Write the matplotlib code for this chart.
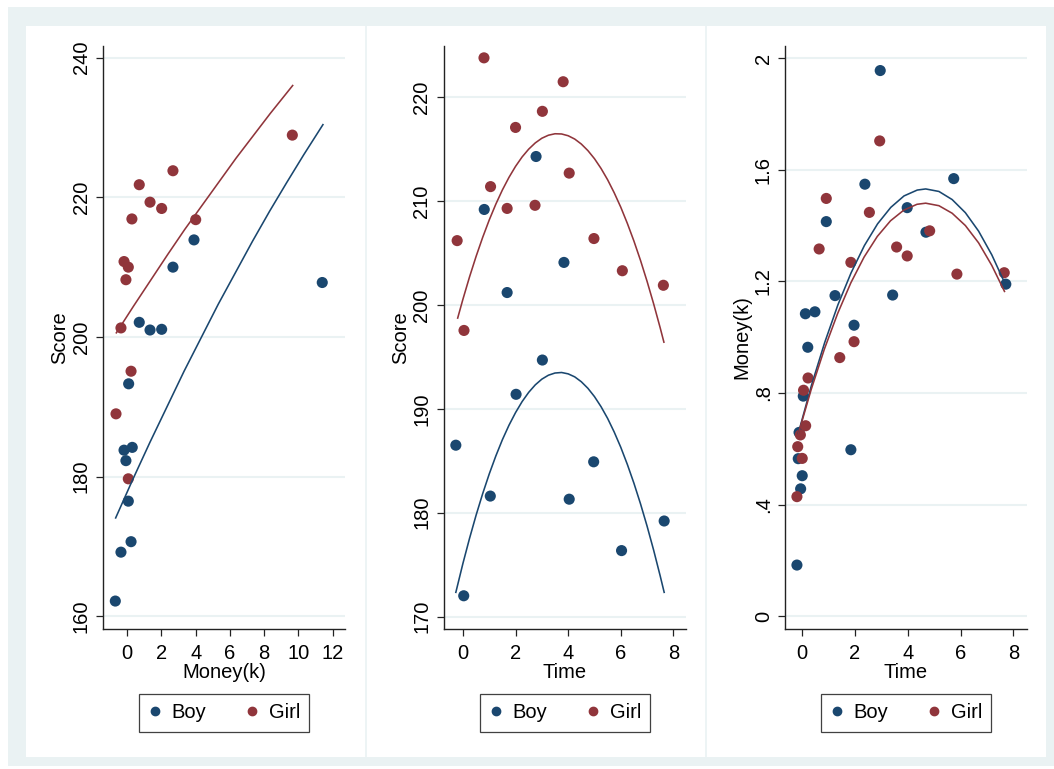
import matplotlib
matplotlib.use("Agg")
import matplotlib.pyplot as plt
from matplotlib.patches import Rectangle
from matplotlib.lines import Line2D

plt.rcParams['font.family'] = ['Liberation Sans', 'DejaVu Sans']

# ---------------- data ----------------
# Panel 1: Score vs Money(k)
p1_boy_money = [11.4, 3.9, 2.67, 0.70, 1.33, 2.01, 0.08, -0.19, 0.29, -0.08, 0.06, 0.22, -0.37, -0.70]
p1_boy_score = [207.8, 213.9, 210.0, 202.1, 201.0, 201.1, 193.3, 183.8, 184.2, 182.3, 176.5, 170.7, 169.2, 162.2]
p1_girl_money = [9.65, 2.67, 0.70, 1.33, 2.01, 0.27, 4.0, -0.19, 0.06, -0.08, -0.37, 0.22, -0.66, 0.06]
p1_girl_score = [228.9, 223.8, 221.8, 219.3, 218.4, 216.9, 216.8, 210.8, 210.0, 208.2, 201.3, 195.1, 189.0, 179.7]
# fitted curves
p1_boy_fit_x = [-0.68, 0.32, 1.32, 2.32, 3.32, 4.32, 5.32, 6.32, 7.32, 8.32, 9.32, 10.32, 11.44]
p1_boy_fit_y = [174.1, 179.6, 184.9, 190.0, 195.1, 199.9, 204.7, 209.2, 213.7, 218.0, 222.1, 226.1, 230.4]
p1_girl_fit_x = [-0.64, 0.36, 1.36, 2.36, 3.36, 4.36, 5.36, 6.36, 7.36, 8.36, 9.67]
p1_girl_fit_y = [200.6, 204.4, 208.1, 211.8, 215.4, 218.8, 222.2, 225.6, 228.8, 232.0, 236.0]

# Panel 2: Score vs Time
p2_boy_time = [2.78, 0.81, 1.68, 3.84, 3.02, 2.02, -0.27, 4.97, 1.04, 4.04, 7.65, 6.03, 0.03]
p2_boy_score = [214.3, 209.2, 201.2, 204.1, 194.7, 191.4, 186.5, 184.9, 181.6, 181.3, 179.2, 176.35, 172.0]
p2_girl_time = [0.80, 3.81, 3.02, 2.0, 4.04, 1.05, 1.68, 2.74, -0.22, 4.98, 6.06, 7.62, 0.04]
p2_girl_score = [223.8, 221.5, 218.65, 217.1, 212.7, 211.4, 209.3, 209.6, 206.2, 206.4, 203.3, 201.9, 197.55]
p2_boy_fit_x = [-0.27, 0.0, 0.25, 0.5, 0.75, 1.0, 1.25, 1.5, 1.75, 2.0, 2.25, 2.5, 2.75, 3.0, 3.25, 3.5, 3.75,
                4.0, 4.25, 4.5, 4.75, 5.0, 5.25, 5.5, 5.75, 6.0, 6.25, 6.5, 6.75, 7.0, 7.25, 7.5, 7.65]
p2_boy_fit_y = [172.33, 175.12, 177.52, 179.76, 181.83, 183.73, 185.46, 187.03, 188.42, 189.64, 190.70,
                191.59, 192.31, 192.86, 193.24, 193.45, 193.50, 193.37, 193.08, 192.61, 191.98, 191.18,
                190.21, 189.08, 187.77, 186.30, 184.65, 182.84, 180.86, 178.71, 176.39, 173.90, 172.33]
p2_girl_fit_x = [-0.2, 0.0, 0.25, 0.5, 0.75, 1.0, 1.25, 1.5, 1.75, 2.0, 2.25, 2.5, 2.75, 3.0, 3.25, 3.5, 3.75,
                 4.0, 4.25, 4.5, 4.75, 5.0, 5.25, 5.5, 5.75, 6.0, 6.25, 6.5, 6.75, 7.0, 7.25, 7.5, 7.64]
p2_girl_fit_y = [198.74, 200.56, 202.70, 204.68, 206.51, 208.19, 209.71, 211.08, 212.29, 213.35, 214.26,
                 215.01, 215.61, 216.06, 216.35, 216.49, 216.47, 216.30, 215.98, 215.50, 214.87, 214.09,
                 213.15, 212.06, 210.81, 209.42, 207.86, 206.16, 204.30, 202.28, 200.11, 197.79, 196.42]

# Panel 3: Money(k) vs Time
p3_boy_time = [2.96, 5.74, 2.38, 3.98, 4.69, 0.92, 1.25, 3.43, 7.71, 0.13, 0.49, 1.97, 0.22,
               0.05, -0.11, -0.14, 0.01, -0.05, 1.85, -0.19]
p3_boy_money = [1.955, 1.568, 1.548, 1.464, 1.376, 1.414, 1.149, 1.151, 1.19, 1.084, 1.091, 1.043, 0.964,
                0.789, 0.659, 0.565, 0.504, 0.457, 0.597, 0.184]
p3_girl_time = [2.94, 0.92, 2.55, 4.83, 0.65, 3.58, 3.98, 1.85, 5.86, 7.65, 1.97, 1.43,
                0.23, 0.06, 0.14, -0.06, -0.16, 0.01, -0.19]
p3_girl_money = [1.703, 1.497, 1.447, 1.381, 1.316, 1.323, 1.291, 1.268, 1.226, 1.231, 0.984, 0.927,
                 0.854, 0.81, 0.683, 0.65, 0.608, 0.566, 0.429]
p3_boy_fit_x = [-0.14, 0.36, 0.86, 1.36, 1.86, 2.36, 2.86, 3.36, 3.86, 4.36, 4.68, 5.18, 5.68, 6.18, 6.68, 7.18, 7.65]
p3_boy_fit_y = [0.655, 0.828, 0.981, 1.116, 1.231, 1.328, 1.406, 1.465, 1.506, 1.527, 1.531, 1.522, 1.493, 1.446, 1.380, 1.295, 1.198]
p3_girl_fit_x = [-0.15, 0.35, 0.85, 1.35, 1.85, 2.35, 2.85, 3.35, 3.85, 4.35, 4.68, 5.18, 5.68, 6.18, 6.68, 7.18, 7.66]
p3_girl_fit_y = [0.650, 0.813, 0.958, 1.085, 1.195, 1.287, 1.361, 1.417, 1.455, 1.476, 1.480, 1.471, 1.444, 1.400, 1.338, 1.257, 1.164]

p1_xticks = [0, 2, 4, 6, 8, 10, 12]
p1_yticks = [160, 180, 200, 220, 240]
p2_xticks = [0, 2, 4, 6, 8]
p2_yticks = [170, 180, 190, 200, 210, 220]
p3_xticks = [0, 2, 4, 6, 8]
p3_yticks = [0, 0.4, 0.8, 1.2, 1.6, 2.0]
p3_ytick_labels = ["0", ".4", ".8", "1.2", "1.6", "2"]

series_labels = ["Boy", "Girl"]

# ---------------- styling ----------------
NAVY = "#1a476f"
MAROON = "#90353b"
BG = "#eaf2f3"
W, H = 1054, 769

fig = plt.figure(figsize=(W / 100, H / 100), dpi=100)
fig.patch.set_facecolor("white")


def px_rect(x0, y0, x1, y1, color, z):
    fig.add_artist(Rectangle((x0 / W, 1 - y1 / H), (x1 - x0) / W, (y1 - y0) / H,
                             transform=fig.transFigure, facecolor=color,
                             edgecolor="none", zorder=z))


px_rect(8, 7, 1054, 766, BG, -10)
px_rect(26, 26, 1046, 757, "white", -9)
for xs in (365.5, 705.5):
    fig.add_artist(Line2D([xs / W, xs / W], [1 - 757 / H, 1 - 26 / H],
                          transform=fig.transFigure, color=BG, lw=1.2, zorder=-8))

bottom = 1 - 629 / H
height = (629 - 45.7) / H

panels = [
    dict(left=103, right=345, xlim=(-1.42, 12.73), ylim=(158.2, 241.7),
         xticks=p1_xticks, yticks=p1_yticks, ylabels=None,
         xlabel="Money(k)", ylabel="Score",
         boy=(p1_boy_money, p1_boy_score), girl=(p1_girl_money, p1_girl_score),
         bfit=(p1_boy_fit_x, p1_boy_fit_y), gfit=(p1_girl_fit_x, p1_girl_fit_y)),
    dict(left=444, right=686, xlim=(-0.72, 8.48), ylim=(168.8, 224.97),
         xticks=p2_xticks, yticks=p2_yticks, ylabels=None,
         xlabel="Time", ylabel="Score",
         boy=(p2_boy_time, p2_boy_score), girl=(p2_girl_time, p2_girl_score),
         bfit=(p2_boy_fit_x, p2_boy_fit_y), gfit=(p2_girl_fit_x, p2_girl_fit_y)),
    dict(left=785.3, right=1026.7, xlim=(-0.63, 8.5), ylim=(-0.045, 2.044),
         xticks=p3_xticks, yticks=p3_yticks, ylabels=p3_ytick_labels,
         xlabel="Time", ylabel="Money(k)",
         boy=(p3_boy_time, p3_boy_money), girl=(p3_girl_time, p3_girl_money),
         bfit=(p3_boy_fit_x, p3_boy_fit_y), gfit=(p3_girl_fit_x, p3_girl_fit_y)),
]

FS = 14.5
for p in panels:
    ax = fig.add_axes([p["left"] / W, bottom, (p["right"] - p["left"]) / W, height])
    ax.set_facecolor("white")
    ax.set_xlim(*p["xlim"])
    ax.set_ylim(*p["ylim"])
    ax.set_xticks(p["xticks"])
    ax.set_yticks(p["yticks"])
    if p["ylabels"] is not None:
        ax.set_yticklabels(p["ylabels"])
    for s in ("top", "right"):
        ax.spines[s].set_visible(False)
    for s in ("left", "bottom"):
        ax.spines[s].set_color("#222222")
        ax.spines[s].set_linewidth(1.0)
    ax.tick_params(axis="both", direction="out", length=5, width=0.9, color="#222222",
                   labelsize=FS)
    ax.tick_params(axis="x", pad=6)
    ax.tick_params(axis="y", pad=4)
    for lab in ax.get_yticklabels():
        lab.set_rotation(90)
        lab.set_va("center")
    ax.yaxis.grid(True, color=BG, lw=1.5, zorder=0)
    ax.set_axisbelow(True)
    ax.set_xlabel(p["xlabel"], fontsize=FS, labelpad=0)
    ax.set_ylabel(p["ylabel"], fontsize=FS, labelpad=2)

    ax.scatter(*p["boy"], s=64, color=NAVY, edgecolors="none", zorder=3)
    ax.scatter(*p["girl"], s=64, color=MAROON, edgecolors="none", zorder=3)
    ax.plot(*p["bfit"], color=NAVY, lw=1.15, zorder=4)
    ax.plot(*p["gfit"], color=MAROON, lw=1.15, zorder=4)

    handles = [Line2D([], [], ls="none", marker="o", markersize=6, color=NAVY),
               Line2D([], [], ls="none", marker="o", markersize=6, color=MAROON)]
    cx = (p["left"] + p["right"]) / 2 / W
    leg = fig.legend(handles, series_labels, loc="center", bbox_to_anchor=(cx, 1 - 713 / H),
                     ncol=2, frameon=True, fancybox=False, fontsize=FS,
                     handlelength=0.7, handletextpad=0.5, columnspacing=1.9,
                     borderpad=0.45, borderaxespad=0)
    leg.get_frame().set_edgecolor("#111111")
    leg.get_frame().set_linewidth(0.9)

fig.savefig("out.png", dpi=100, facecolor="white")
